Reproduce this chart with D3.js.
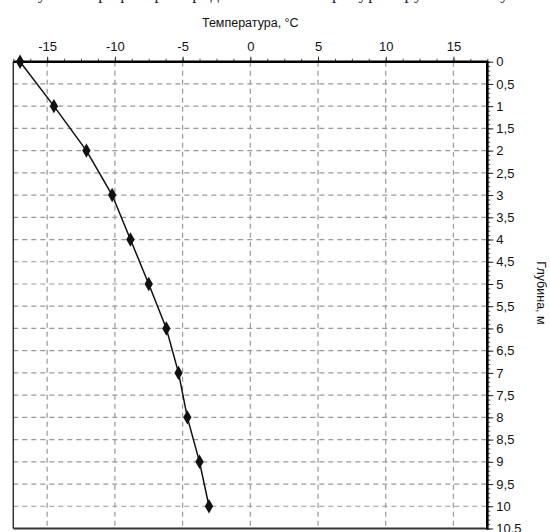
<!DOCTYPE html>
<html><head><meta charset="utf-8">
<script src="https://cdn.jsdelivr.net/npm/d3@7"></script>
<style>body{margin:0;background:#fff}svg{display:block}</style>
</head><body>
<svg id="c" width="550" height="532"></svg>
<script>
const depths = [0, 1, 2, 3, 4, 5, 6, 7, 8, 9, 10];
const temps = [-17.0, -14.5, -12.1, -10.2, -8.85, -7.5, -6.2, -5.3, -4.65, -3.75, -3.05];
const xTicks = [-15, -10, -5, 0, 5, 10, 15];
const yTicks = [0,0.5,1,1.5,2,2.5,3,3.5,4,4.5,5,5.5,6,6.5,7,7.5,8,8.5,9,9.5,10,10.5];
const xTitle = "Температура, °С";
const yTitle = "Глубина, м";
const caption = "Рисунок. График распределения температуры грунта по глубине";

const svg = d3.select("#c");
const L = 13.3, R = 487.3, T = 61.7, B = 528.5;
const x = d3.scaleLinear().domain([-17.5, 17.5]).range([L, R]);
const y = d3.scaleLinear().domain([0, 10.5]).range([T, B]);
const font = "'Liberation Sans', Arial, sans-serif";

// partially visible caption at very top (cut off like in the reference)
svg.append("text").attr("x", 8).attr("y", -1.5).attr("font-family", "'Liberation Serif', serif")
  .attr("font-size", 17).attr("fill", "#222").attr("textLength", 540).text(caption);

// grid
const g = svg.append("g");
g.selectAll(".vg").data(xTicks).join("line")
  .attr("x1", d => x(d)).attr("x2", d => x(d)).attr("y1", T).attr("y2", B)
  .attr("stroke", "#999").attr("stroke-width", 1.2).attr("stroke-dasharray", "5,4");
g.selectAll(".hg").data(yTicks.filter(d => d > 0 && d < 10.5)).join("line")
  .attr("x1", L).attr("x2", R).attr("y1", d => y(d)).attr("y2", d => y(d))
  .attr("stroke", "#999").attr("stroke-width", 1.2).attr("stroke-dasharray", "5,4");

// top axis
const xMinor = d3.range(-17.5, 17.51, 1.25);
svg.append("g").attr("transform", `translate(0,${T})`)
  .call(d3.axisTop(x).tickValues(xMinor).tickSize(3).tickFormat(""))
  .call(s => s.select(".domain").remove())
  .call(s => s.selectAll("line").attr("stroke", "#555"));
svg.append("g").attr("transform", `translate(0,${T})`)
  .call(d3.axisTop(x).tickValues(xTicks).tickSize(5).tickPadding(6).tickFormat(d => d))
  .call(s => s.select(".domain").remove())
  .call(s => s.selectAll("text").attr("font-family", font).attr("font-size", 13).attr("fill", "#111"))
  .call(s => s.selectAll("line").attr("stroke", "#222"));

// right axis
const yMinor = d3.range(0, 10.51, 0.1);
svg.append("g").attr("transform", `translate(${R},0)`)
  .call(d3.axisRight(y).tickValues(yMinor).tickSize(3).tickFormat(""))
  .call(s => s.select(".domain").remove())
  .call(s => s.selectAll("line").attr("stroke", "#555"));
svg.append("g").attr("transform", `translate(${R},0)`)
  .call(d3.axisRight(y).tickValues(yTicks).tickSize(6).tickPadding(3)
    .tickFormat(d => String(d).replace(".", ",")))
  .call(s => s.select(".domain").remove())
  .call(s => s.selectAll("text").attr("font-family", font).attr("font-size", 13).attr("fill", "#111"))
  .call(s => s.selectAll("line").attr("stroke", "#222"));

// frame
svg.append("line").attr("x1", L).attr("x2", L).attr("y1", T).attr("y2", B).attr("stroke", "#333").attr("stroke-width", 1.5);
svg.append("line").attr("x1", L).attr("x2", R).attr("y1", B).attr("y2", B).attr("stroke", "#333").attr("stroke-width", 1.8);
svg.append("line").attr("x1", L).attr("x2", R + 1).attr("y1", T).attr("y2", T).attr("stroke", "#000").attr("stroke-width", 2.6);
svg.append("line").attr("x1", R).attr("x2", R).attr("y1", T).attr("y2", B + 1).attr("stroke", "#000").attr("stroke-width", 2.6);

// titles
svg.append("text").attr("x", x(0)).attr("y", 27).attr("text-anchor", "middle")
  .attr("font-family", font).attr("font-size", 12.5).attr("fill", "#111").text(xTitle);
svg.append("text").attr("transform", `translate(537,293) rotate(90)`).attr("text-anchor", "middle")
  .attr("font-family", font).attr("font-size", 12.5).attr("fill", "#111").text(yTitle);

// data
const data = depths.map((d, i) => ({d, t: temps[i]}));
svg.append("path").datum(data)
  .attr("d", d3.line().x(p => x(p.t)).y(p => y(p.d)))
  .attr("fill", "none").attr("stroke", "#111").attr("stroke-width", 1.5);
svg.selectAll(".pt").data(data).join("path")
  .attr("transform", p => `translate(${x(p.t)},${y(p.d)})`)
  .attr("d", d3.symbol(d3.symbolDiamond, 60))
  .attr("fill", "#111");
</script>
</body></html>
